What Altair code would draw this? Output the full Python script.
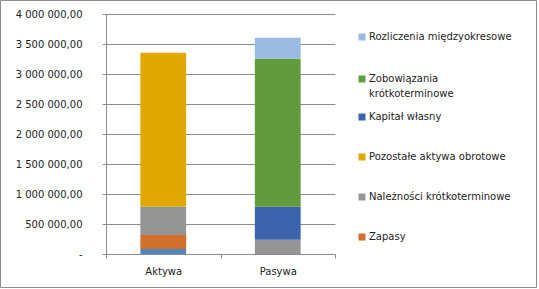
import altair as alt
import pandas as pd

categories = ["Aktywa", "Pasywa"]
series = [
    "Aktywa trwałe",
    "Zapasy",
    "Należności krótkoterminowe",
    "Pozostałe aktywa obrotowe",
    "Kapitał własny",
    "Zobowiązania krótkoterminowe",
    "Rozliczenia międzyokresowe",
]
aktywa_values = [83000, 233000, 472000, 2567000, 0, 0, 0]
pasywa_values = [0, 0, 238000, 0, 550000, 2467000, 350000]
colors = ["#4C87C2", "#D26F2C", "#959595", "#E0A800", "#3C64AD", "#629B3E", "#9ABBE1"]
legend_top = ["Rozliczenia międzyokresowe", "Zobowiązania krótkoterminowe"]
legend_bottom = [
    "Kapitał własny",
    "Pozostałe aktywa obrotowe",
    "Należności krótkoterminowe",
    "Zapasy",
]
y_ticks = [0, 500000, 1000000, 1500000, 2000000, 2500000, 3000000, 3500000, 4000000]

rows = []
for i, s in enumerate(series):
    rows.append({"kategoria": "Aktywa", "seria": s, "wartosc": aktywa_values[i], "kolejnosc": i})
    rows.append({"kategoria": "Pasywa", "seria": s, "wartosc": pasywa_values[i], "kolejnosc": i})
df = pd.DataFrame(rows)

FONT = "DejaVu Sans"
TEXT = "#222222"
GRID = "#8c8c8c"

x_enc = alt.X(
    "kategoria:N",
    sort=categories,
    title=None,
    scale=alt.Scale(paddingInner=0, paddingOuter=0),
    axis=alt.Axis(
        labelAngle=0,
        tickBand="extent",
        tickSize=4,
        labelPadding=8,
        domainColor=GRID,
        tickColor=GRID,
        labelColor=TEXT,
        labelFont=FONT,
        labelFontSize=10,
    ),
)
y_enc = alt.Y(
    "y0:Q",
    title=None,
    scale=alt.Scale(domain=[0, 4000000], nice=False),
    axis=alt.Axis(
        values=y_ticks,
        format=",.2f",
        labelExpr="datum.value == 0 ? '-\u00a0\u00a0' : datum.label",
        tickSize=4,
        labelPadding=20,
        grid=True,
        gridColor=GRID,
        domainColor=GRID,
        tickColor=GRID,
        labelColor=TEXT,
        labelFont=FONT,
        labelFontSize=10,
    ),
)


def legend(values, y, row_pad):
    return alt.Legend(
        title=None,
        values=values,
        orient="none",
        legendX=251,
        legendY=y,
        symbolType="square",
        symbolSize=49,
        symbolStrokeWidth=0,
        labelOffset=2,
        labelFont=FONT,
        labelFontSize=10,
        labelColor=TEXT,
        labelLimit=300,
        clipHeight=12,
        rowPadding=row_pad,
        padding=0,
        labelExpr="datum.label == 'Zobowiązania krótkoterminowe' ? ['Zobowiązania', 'krótkoterminowe'] : datum.label",
    )


base = alt.Chart(df).transform_stack(
    stack="wartosc",
    groupby=["kategoria"],
    as_=["y0", "y1"],
    sort=[alt.SortField("kolejnosc", order="ascending")],
)

group_a = [s for s in series if s in legend_top]
group_b = [s for s in series if s not in legend_top]
colors_a = [colors[series.index(s)] for s in group_a]
colors_b = [colors[series.index(s)] for s in group_b]

bars_a = base.transform_filter(
    alt.FieldOneOfPredicate(field="seria", oneOf=group_a)
).mark_bar(width=alt.RelativeBandSize(0.4)).encode(
    x=x_enc,
    y=y_enc,
    y2="y1:Q",
    color=alt.Color(
        "seria:N",
        scale=alt.Scale(domain=group_a, range=colors_a),
        legend=legend(legend_top, 17, 30),
    ),
)

bars_b = base.transform_filter(
    alt.FieldOneOfPredicate(field="seria", oneOf=group_b)
).mark_bar(width=alt.RelativeBandSize(0.4)).encode(
    x=x_enc,
    y=y_enc,
    y2="y1:Q",
    color=alt.Color(
        "seria:N",
        scale=alt.Scale(domain=group_b, range=colors_b),
        legend=legend(legend_bottom, 97, 28),
    ),
)

border = alt.Chart(alt.Data(values=[{"a": 1}])).mark_rect(
    fill=None, stroke=GRID, strokeWidth=1
).encode(
    x=alt.value(-105.5), x2=alt.value(430.5), y=alt.value(-13.5), y2=alt.value(273.5)
)

chart = alt.layer(bars_b, bars_a, border).resolve_scale(
    color="independent"
).properties(
    width=229,
    height=240,
    autosize=alt.AutoSizeParams(type="none"),
    padding={"left": 106, "top": 14, "right": 204, "bottom": 35},
    background="white",
).configure(
    style={"guide-label": {"lineHeight": 15}},
    view={"strokeWidth": 0},
)

chart.save(
    "out.html",
    embed_options={
        "renderer": "svg",
        "actions": False,
        "formatLocale": {
            "decimal": ",",
            "thousands": "\u00a0",
            "grouping": [3],
            "currency": ["", " zł"],
        },
    },
)
